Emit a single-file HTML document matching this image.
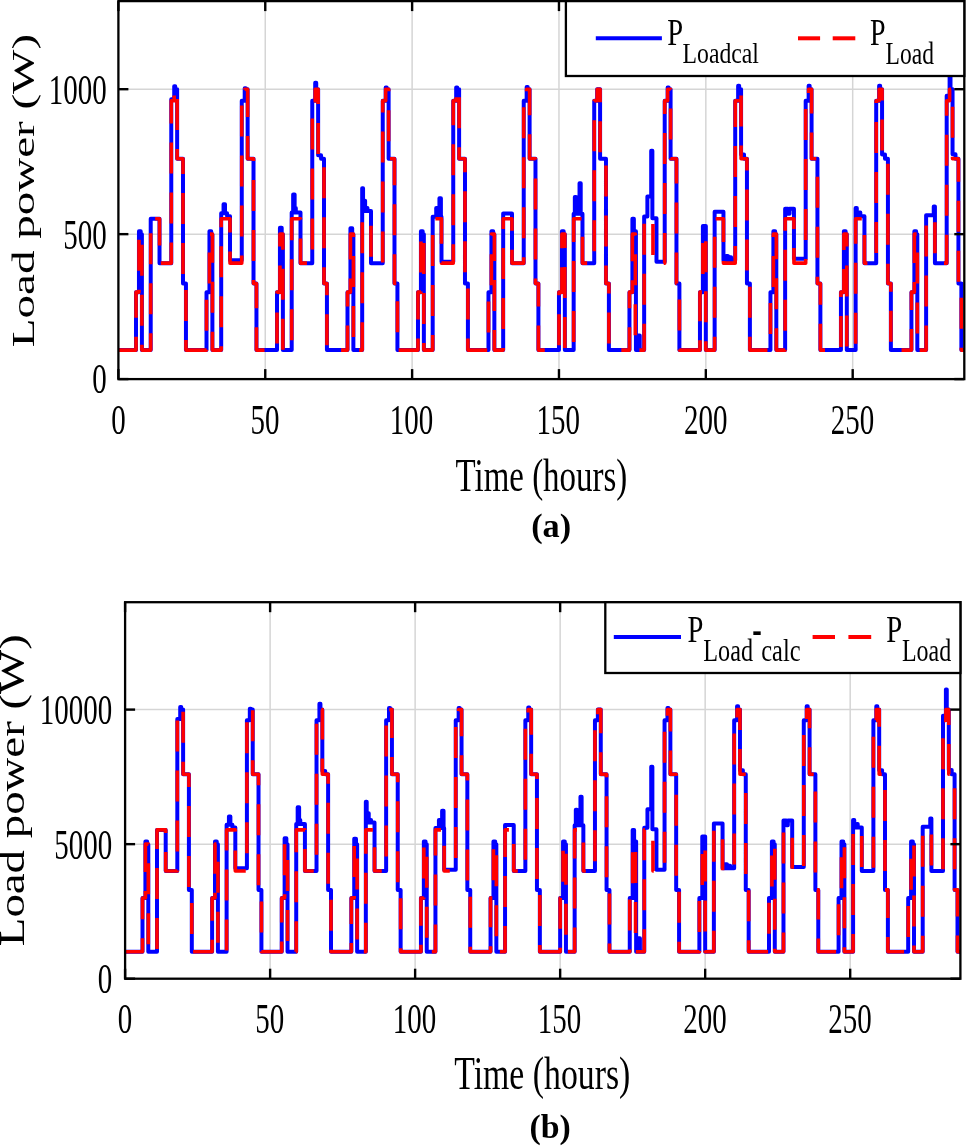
<!DOCTYPE html>
<html><head><meta charset="utf-8"><title>Load power</title>
<style>
html,body{margin:0;padding:0;background:#fff;}
body{width:966px;height:1146px;overflow:hidden;}
svg{display:block;font-family:"Liberation Serif",serif;will-change:transform;}
</style></head>
<body>
<svg width="966" height="1146" viewBox="0 0 966 1146">
<rect width="966" height="1146" fill="#fff"/>
<clipPath id="clipa"><rect x="118.4" y="1.1" width="845.9" height="378.0"/></clipPath>
<g stroke="#d5d5d5" stroke-width="1.5"><line x1="265.26" y1="1.1" x2="265.26" y2="379.1"/><line x1="412.12" y1="1.1" x2="412.12" y2="379.1"/><line x1="558.97" y1="1.1" x2="558.97" y2="379.1"/><line x1="705.83" y1="1.1" x2="705.83" y2="379.1"/><line x1="852.69" y1="1.1" x2="852.69" y2="379.1"/><line x1="118.4" y1="234.15" x2="964.3" y2="234.15"/><line x1="118.4" y1="89.20" x2="964.3" y2="89.20"/></g>
<g clip-path="url(#clipa)" fill="none" stroke-width="3.8" stroke-linejoin="round" stroke-linecap="butt">
<path d="M118.40,350.11 L136.02,350.11 L136.02,292.13 L138.96,292.13 L138.96,231.25 L140.72,231.25 L140.72,234.15 L141.90,234.15 L141.90,350.11 L150.71,350.11 L150.71,218.79 L159.52,218.79 L159.52,263.14 L171.27,263.14 L171.27,99.35 L174.21,99.35 L174.21,86.30 L175.23,86.30 L175.23,89.20 L177.14,89.20 L177.14,158.78 L183.02,158.78 L183.02,283.43 L185.95,283.43 L185.95,350.11 L206.51,350.11 L206.51,292.13 L209.45,292.13 L209.45,231.25 L211.21,231.25 L211.21,234.15 L212.39,234.15 L212.39,350.11 L221.20,350.11 L221.20,213.28 L223.55,213.28 L223.55,204.29 L225.02,204.29 L225.02,213.28 L227.07,213.28 L227.07,216.18 L230.01,216.18 L230.01,260.24 L241.76,260.24 L241.76,100.80 L244.70,100.80 L244.70,88.33 L245.73,88.33 L245.73,89.20 L247.63,89.20 L247.63,158.78 L253.51,158.78 L253.51,283.43 L256.45,283.43 L256.45,350.11 L277.01,350.11 L277.01,292.13 L279.94,292.13 L279.94,227.77 L281.71,227.77 L281.71,234.15 L282.88,234.15 L282.88,350.11 L291.69,350.11 L291.69,212.41 L293.16,212.41 L293.16,194.43 L294.63,194.43 L294.63,208.06 L295.80,208.06 L295.80,212.41 L300.50,212.41 L300.50,263.14 L312.25,263.14 L312.25,100.80 L315.19,100.80 L315.19,82.82 L316.22,82.82 L316.22,89.20 L318.13,89.20 L318.13,155.30 L321.06,155.30 L321.06,158.78 L324.00,158.78 L324.00,283.43 L326.94,283.43 L326.94,350.11 L347.50,350.11 L347.50,292.13 L350.44,292.13 L350.44,228.35 L352.20,228.35 L352.20,234.15 L353.37,234.15 L353.37,350.11 L362.18,350.11 L362.18,188.35 L363.06,188.35 L363.06,210.96 L363.65,210.96 L363.65,200.81 L365.12,200.81 L365.12,210.96 L366.00,210.96 L366.00,208.06 L367.47,208.06 L367.47,210.96 L371.00,210.96 L371.00,263.14 L382.74,263.14 L382.74,100.80 L385.68,100.80 L385.68,87.46 L386.71,87.46 L386.71,89.20 L388.62,89.20 L388.62,158.78 L394.49,158.78 L394.49,283.43 L397.43,283.43 L397.43,350.11 L417.99,350.11 L417.99,292.13 L420.93,292.13 L420.93,231.25 L422.69,231.25 L422.69,234.15 L423.86,234.15 L423.86,350.11 L432.68,350.11 L432.68,216.76 L436.20,216.76 L436.20,208.06 L438.55,208.06 L438.55,216.76 L439.43,216.76 L439.43,198.20 L440.90,198.20 L440.90,216.76 L441.49,216.76 L441.49,261.69 L453.24,261.69 L453.24,100.80 L456.17,100.80 L456.17,87.46 L457.20,87.46 L457.20,89.20 L459.11,89.20 L459.11,158.78 L464.98,158.78 L464.98,283.43 L467.92,283.43 L467.92,350.11 L488.48,350.11 L488.48,292.13 L491.42,292.13 L491.42,231.25 L493.18,231.25 L493.18,234.15 L494.36,234.15 L494.36,350.11 L503.17,350.11 L503.17,213.57 L511.98,213.57 L511.98,263.14 L523.73,263.14 L523.73,100.80 L526.66,100.80 L526.66,86.88 L527.69,86.88 L527.69,89.20 L529.60,89.20 L529.60,158.78 L535.48,158.78 L535.48,283.43 L538.41,283.43 L538.41,350.11 L558.97,350.11 L558.97,292.13 L561.91,292.13 L561.91,231.25 L563.67,231.25 L563.67,234.15 L564.85,234.15 L564.85,350.11 L573.66,350.11 L573.66,213.86 L574.83,213.86 L574.83,197.04 L576.01,197.04 L576.01,213.86 L579.53,213.86 L579.53,183.13 L580.71,183.13 L580.71,213.86 L582.47,213.86 L582.47,263.14 L594.22,263.14 L594.22,100.80 L597.16,100.80 L597.16,89.20 L600.09,89.20 L600.09,158.78 L605.97,158.78 L605.97,283.43 L608.90,283.43 L608.90,350.11 L629.46,350.11 L629.46,292.13 L632.40,292.13 L632.40,218.79 L633.87,218.79 L633.87,231.25 L635.93,231.25 L635.93,350.11 L637.39,350.11 L637.39,335.62 L639.74,335.62 L639.74,350.11 L644.15,350.11 L644.15,216.47 L647.38,216.47 L647.38,196.46 L651.20,196.46 L651.20,150.66 L652.37,150.66 L652.37,218.21 L656.49,218.21 L656.49,261.69 L664.71,261.69 L664.71,100.80 L667.65,100.80 L667.65,87.46 L668.68,87.46 L668.68,89.20 L670.58,89.20 L670.58,158.78 L676.46,158.78 L676.46,283.43 L679.40,283.43 L679.40,350.11 L699.96,350.11 L699.96,292.13 L702.89,292.13 L702.89,226.03 L705.83,226.03 L705.83,350.11 L714.64,350.11 L714.64,211.83 L723.45,211.83 L723.45,260.24 L726.39,260.24 L726.39,255.89 L727.86,255.89 L727.86,260.24 L729.92,260.24 L729.92,257.34 L731.09,257.34 L731.09,260.24 L735.20,260.24 L735.20,100.80 L738.14,100.80 L738.14,85.72 L739.17,85.72 L739.17,89.20 L741.08,89.20 L741.08,154.43 L744.01,154.43 L744.01,158.78 L746.95,158.78 L746.95,283.43 L749.89,283.43 L749.89,350.11 L770.45,350.11 L770.45,292.13 L773.39,292.13 L773.39,231.25 L775.15,231.25 L775.15,234.15 L776.32,234.15 L776.32,350.11 L785.13,350.11 L785.13,208.64 L788.07,208.64 L788.07,213.86 L789.54,213.86 L789.54,208.64 L793.95,208.64 L793.95,258.79 L805.69,258.79 L805.69,100.80 L808.63,100.80 L808.63,85.72 L809.66,85.72 L809.66,89.20 L811.57,89.20 L811.57,158.78 L817.44,158.78 L817.44,283.43 L820.38,283.43 L820.38,350.11 L840.94,350.11 L840.94,292.13 L843.88,292.13 L843.88,231.25 L845.64,231.25 L845.64,234.15 L846.81,234.15 L846.81,350.11 L855.63,350.11 L855.63,208.06 L856.80,208.06 L856.80,216.18 L859.44,216.18 L859.44,212.41 L860.32,212.41 L860.32,216.18 L864.44,216.18 L864.44,263.14 L876.19,263.14 L876.19,100.80 L879.12,100.80 L879.12,85.72 L880.15,85.72 L880.15,89.20 L882.06,89.20 L882.06,154.43 L885.00,154.43 L885.00,158.78 L887.93,158.78 L887.93,283.43 L890.87,283.43 L890.87,350.11 L911.43,350.11 L911.43,292.13 L914.37,292.13 L914.37,231.25 L916.13,231.25 L916.13,234.15 L917.31,234.15 L917.31,350.11 L926.12,350.11 L926.12,215.31 L933.75,215.31 L933.75,206.61 L934.93,206.61 L934.93,263.14 L946.68,263.14 L946.68,95.87 L949.61,95.87 L949.61,67.46 L950.50,67.46 L950.50,89.20 L952.55,89.20 L952.55,154.14 L955.49,154.14 L955.49,158.78 L958.43,158.78 L958.43,283.43 L961.36,283.43 L961.36,350.11 L964.30,350.11" stroke="#0000ff" stroke-width="4.0"/>
<path d="M118.40,350.11 L136.02,350.11 L136.02,292.13 L138.96,292.13 L138.96,234.15 L141.90,234.15 L141.90,350.11 L150.71,350.11 L150.71,218.79 L159.52,218.79 L159.52,263.14 L171.27,263.14 L171.27,100.80 L174.21,100.80 L174.21,89.20 L177.14,89.20 L177.14,158.78 L183.02,158.78 L183.02,283.43 L185.95,283.43 L185.95,350.11 L206.51,350.11 L206.51,292.13 L209.45,292.13 L209.45,234.15 L212.39,234.15 L212.39,350.11 L221.20,350.11 L221.20,218.79 L230.01,218.79 L230.01,263.14 L241.76,263.14 L241.76,100.80 L244.70,100.80 L244.70,89.20 L247.63,89.20 L247.63,158.78 L253.51,158.78 L253.51,283.43 L256.45,283.43 L256.45,350.11 L277.01,350.11 L277.01,292.13 L279.94,292.13 L279.94,234.15 L282.88,234.15 L282.88,350.11 L291.69,350.11 L291.69,218.79 L300.50,218.79 L300.50,263.14 L312.25,263.14 L312.25,100.80 L315.19,100.80 L315.19,89.20 L318.13,89.20 L318.13,158.78 L324.00,158.78 L324.00,283.43 L326.94,283.43 L326.94,350.11 L347.50,350.11 L347.50,292.13 L350.44,292.13 L350.44,234.15 L353.37,234.15 L353.37,350.11 L362.18,350.11 L362.18,218.79 L371.00,218.79 L371.00,263.14 L382.74,263.14 L382.74,100.80 L385.68,100.80 L385.68,89.20 L388.62,89.20 L388.62,158.78 L394.49,158.78 L394.49,283.43 L397.43,283.43 L397.43,350.11 L417.99,350.11 L417.99,292.13 L420.93,292.13 L420.93,234.15 L423.86,234.15 L423.86,350.11 L432.68,350.11 L432.68,218.79 L441.49,218.79 L441.49,263.14 L453.24,263.14 L453.24,100.80 L456.17,100.80 L456.17,89.20 L459.11,89.20 L459.11,158.78 L464.98,158.78 L464.98,283.43 L467.92,283.43 L467.92,350.11 L488.48,350.11 L488.48,292.13 L491.42,292.13 L491.42,234.15 L494.36,234.15 L494.36,350.11 L503.17,350.11 L503.17,218.79 L511.98,218.79 L511.98,263.14 L523.73,263.14 L523.73,100.80 L526.66,100.80 L526.66,89.20 L529.60,89.20 L529.60,158.78 L535.48,158.78 L535.48,283.43 L538.41,283.43 L538.41,350.11 L558.97,350.11 L558.97,292.13 L561.91,292.13 L561.91,234.15 L564.85,234.15 L564.85,350.11 L573.66,350.11 L573.66,218.79 L582.47,218.79 L582.47,263.14 L594.22,263.14 L594.22,100.80 L597.16,100.80 L597.16,89.20 L600.09,89.20 L600.09,158.78 L605.97,158.78 L605.97,283.43 L608.90,283.43 L608.90,350.11 L629.46,350.11 L629.46,292.13 L632.40,292.13 L632.40,234.15 L635.34,234.15 L635.34,350.11 L644.15,350.11 L644.15,218.79 L652.96,218.79 L652.96,263.14 L664.71,263.14 L664.71,100.80 L667.65,100.80 L667.65,89.20 L670.58,89.20 L670.58,158.78 L676.46,158.78 L676.46,283.43 L679.40,283.43 L679.40,350.11 L699.96,350.11 L699.96,292.13 L702.89,292.13 L702.89,234.15 L705.83,234.15 L705.83,350.11 L714.64,350.11 L714.64,218.79 L723.45,218.79 L723.45,263.14 L735.20,263.14 L735.20,100.80 L738.14,100.80 L738.14,89.20 L741.08,89.20 L741.08,158.78 L746.95,158.78 L746.95,283.43 L749.89,283.43 L749.89,350.11 L770.45,350.11 L770.45,292.13 L773.39,292.13 L773.39,234.15 L776.32,234.15 L776.32,350.11 L785.13,350.11 L785.13,218.79 L793.95,218.79 L793.95,263.14 L805.69,263.14 L805.69,100.80 L808.63,100.80 L808.63,89.20 L811.57,89.20 L811.57,158.78 L817.44,158.78 L817.44,283.43 L820.38,283.43 L820.38,350.11 L840.94,350.11 L840.94,292.13 L843.88,292.13 L843.88,234.15 L846.81,234.15 L846.81,350.11 L855.63,350.11 L855.63,218.79 L864.44,218.79 L864.44,263.14 L876.19,263.14 L876.19,100.80 L879.12,100.80 L879.12,89.20 L882.06,89.20 L882.06,158.78 L887.93,158.78 L887.93,283.43 L890.87,283.43 L890.87,350.11 L911.43,350.11 L911.43,292.13 L914.37,292.13 L914.37,234.15 L917.31,234.15 L917.31,350.11 L926.12,350.11 L926.12,218.79 L934.93,218.79 L934.93,263.14 L946.68,263.14 L946.68,100.80 L949.61,100.80 L949.61,89.20 L952.55,89.20 L952.55,158.78 L958.43,158.78 L958.43,283.43 L961.36,283.43 L961.36,350.11 L964.30,350.11" stroke="#ff0000" stroke-width="3.6" stroke-dasharray="31 19"/>
</g>
<g stroke="#000" stroke-width="2.4"><line x1="118.40" y1="379.1" x2="118.40" y2="369.1"/><line x1="118.40" y1="1.1" x2="118.40" y2="11.1"/><line x1="265.26" y1="379.1" x2="265.26" y2="369.1"/><line x1="265.26" y1="1.1" x2="265.26" y2="11.1"/><line x1="412.12" y1="379.1" x2="412.12" y2="369.1"/><line x1="412.12" y1="1.1" x2="412.12" y2="11.1"/><line x1="558.97" y1="379.1" x2="558.97" y2="369.1"/><line x1="558.97" y1="1.1" x2="558.97" y2="11.1"/><line x1="705.83" y1="379.1" x2="705.83" y2="369.1"/><line x1="705.83" y1="1.1" x2="705.83" y2="11.1"/><line x1="852.69" y1="379.1" x2="852.69" y2="369.1"/><line x1="852.69" y1="1.1" x2="852.69" y2="11.1"/><line x1="118.4" y1="379.10" x2="128.4" y2="379.10"/><line x1="964.3" y1="379.10" x2="954.3" y2="379.10"/><line x1="118.4" y1="234.15" x2="128.4" y2="234.15"/><line x1="964.3" y1="234.15" x2="954.3" y2="234.15"/><line x1="118.4" y1="89.20" x2="128.4" y2="89.20"/><line x1="964.3" y1="89.20" x2="954.3" y2="89.20"/></g>
<rect x="118.4" y="1.1" width="845.9" height="378.0" fill="none" stroke="#000" stroke-width="2.3"/>
<text transform="translate(92.21,393.46) scale(0.6900,1)" font-size="42.00" font-weight="normal" fill="#000">0</text>
<text transform="translate(63.23,248.50) scale(0.6900,1)" font-size="42.00" font-weight="normal" fill="#000">500</text>
<text transform="translate(48.74,103.56) scale(0.6900,1)" font-size="42.00" font-weight="normal" fill="#000">1000</text>
<text transform="translate(111.16,434.03) scale(0.6900,1)" font-size="42.00" font-weight="normal" fill="#000">0</text>
<text transform="translate(250.48,434.03) scale(0.6900,1)" font-size="42.00" font-weight="normal" fill="#000">50</text>
<text transform="translate(389.66,434.03) scale(0.6900,1)" font-size="42.00" font-weight="normal" fill="#000">100</text>
<text transform="translate(536.51,434.03) scale(0.6900,1)" font-size="42.00" font-weight="normal" fill="#000">150</text>
<text transform="translate(684.01,434.03) scale(0.6900,1)" font-size="42.00" font-weight="normal" fill="#000">200</text>
<text transform="translate(830.87,434.03) scale(0.6900,1)" font-size="42.00" font-weight="normal" fill="#000">250</text>
<rect x="565.9" y="1.1" width="398.4" height="74.9" fill="#fff" stroke="#000" stroke-width="2.3"/>
<line x1="595.8" y1="38.3" x2="661.9" y2="38.3" stroke="#0000ff" stroke-width="4"/>
<line x1="798" y1="38.3" x2="820.1" y2="38.3" stroke="#ff0000" stroke-width="4"/>
<line x1="832.7" y1="38.3" x2="855.3" y2="38.3" stroke="#ff0000" stroke-width="4"/>
<text transform="translate(667.17,45.10) scale(0.7448,1)" font-size="38.32" font-weight="normal" fill="#000">P</text>
<text transform="translate(682.61,63.47) scale(0.7849,1)" font-size="30.21" font-weight="normal" fill="#000">Loadcal</text>
<text transform="translate(869.99,44.90) scale(0.7287,1)" font-size="38.32" font-weight="normal" fill="#000">P</text>
<text transform="translate(885.62,63.76) scale(0.7470,1)" font-size="31.50" font-weight="normal" fill="#000">Load</text>
<clipPath id="clipb"><rect x="125.1" y="602.2" width="835.3" height="376.5"/></clipPath>
<g stroke="#d5d5d5" stroke-width="1.5"><line x1="270.12" y1="602.2" x2="270.12" y2="978.7"/><line x1="415.13" y1="602.2" x2="415.13" y2="978.7"/><line x1="560.15" y1="602.2" x2="560.15" y2="978.7"/><line x1="705.17" y1="602.2" x2="705.17" y2="978.7"/><line x1="850.19" y1="602.2" x2="850.19" y2="978.7"/><line x1="125.1" y1="844.15" x2="960.4" y2="844.15"/><line x1="125.1" y1="709.60" x2="960.4" y2="709.60"/></g>
<g clip-path="url(#clipb)" fill="none" stroke-width="3.8" stroke-linejoin="round" stroke-linecap="butt">
<path d="M125.10,951.79 L142.50,951.79 L142.50,897.97 L145.40,897.97 L145.40,841.46 L147.14,841.46 L147.14,844.15 L148.30,844.15 L148.30,951.79 L157.00,951.79 L157.00,829.89 L165.70,829.89 L165.70,871.06 L177.31,871.06 L177.31,719.02 L180.21,719.02 L180.21,706.91 L181.22,706.91 L181.22,709.60 L183.11,709.60 L183.11,774.18 L188.91,774.18 L188.91,889.90 L191.81,889.90 L191.81,951.79 L212.11,951.79 L212.11,897.97 L215.01,897.97 L215.01,841.46 L216.75,841.46 L216.75,844.15 L217.91,844.15 L217.91,951.79 L226.61,951.79 L226.61,824.77 L228.93,824.77 L228.93,816.43 L230.38,816.43 L230.38,824.77 L232.41,824.77 L232.41,827.47 L235.31,827.47 L235.31,868.37 L246.91,868.37 L246.91,720.36 L249.81,720.36 L249.81,708.79 L250.83,708.79 L250.83,709.60 L252.72,709.60 L252.72,774.18 L258.52,774.18 L258.52,889.90 L261.42,889.90 L261.42,951.79 L281.72,951.79 L281.72,897.97 L284.62,897.97 L284.62,838.23 L286.36,838.23 L286.36,844.15 L287.52,844.15 L287.52,951.79 L296.22,951.79 L296.22,823.97 L297.67,823.97 L297.67,807.28 L299.12,807.28 L299.12,819.93 L300.28,819.93 L300.28,823.97 L304.92,823.97 L304.92,871.06 L316.52,871.06 L316.52,720.36 L319.42,720.36 L319.42,703.68 L320.44,703.68 L320.44,709.60 L322.32,709.60 L322.32,770.95 L325.22,770.95 L325.22,774.18 L328.12,774.18 L328.12,889.90 L331.02,889.90 L331.02,951.79 L351.33,951.79 L351.33,897.97 L354.23,897.97 L354.23,838.77 L355.97,838.77 L355.97,844.15 L357.13,844.15 L357.13,951.79 L365.83,951.79 L365.83,801.63 L366.70,801.63 L366.70,822.62 L367.28,822.62 L367.28,813.20 L368.73,813.20 L368.73,822.62 L369.60,822.62 L369.60,819.93 L371.05,819.93 L371.05,822.62 L374.53,822.62 L374.53,871.06 L386.13,871.06 L386.13,720.36 L389.03,720.36 L389.03,707.99 L390.05,707.99 L390.05,709.60 L391.93,709.60 L391.93,774.18 L397.73,774.18 L397.73,889.90 L400.63,889.90 L400.63,951.79 L420.94,951.79 L420.94,897.97 L423.84,897.97 L423.84,841.46 L425.58,841.46 L425.58,844.15 L426.74,844.15 L426.74,951.79 L435.44,951.79 L435.44,828.00 L438.92,828.00 L438.92,819.93 L441.24,819.93 L441.24,828.00 L442.11,828.00 L442.11,810.78 L443.56,810.78 L443.56,828.00 L444.14,828.00 L444.14,869.71 L455.74,869.71 L455.74,720.36 L458.64,720.36 L458.64,707.99 L459.66,707.99 L459.66,709.60 L461.54,709.60 L461.54,774.18 L467.34,774.18 L467.34,889.90 L470.24,889.90 L470.24,951.79 L490.54,951.79 L490.54,897.97 L493.44,897.97 L493.44,841.46 L495.18,841.46 L495.18,844.15 L496.34,844.15 L496.34,951.79 L505.05,951.79 L505.05,825.04 L513.75,825.04 L513.75,871.06 L525.35,871.06 L525.35,720.36 L528.25,720.36 L528.25,707.45 L529.26,707.45 L529.26,709.60 L531.15,709.60 L531.15,774.18 L536.95,774.18 L536.95,889.90 L539.85,889.90 L539.85,951.79 L560.15,951.79 L560.15,897.97 L563.05,897.97 L563.05,841.46 L564.79,841.46 L564.79,844.15 L565.95,844.15 L565.95,951.79 L574.65,951.79 L574.65,825.31 L575.81,825.31 L575.81,809.71 L576.97,809.71 L576.97,825.31 L580.45,825.31 L580.45,796.79 L581.61,796.79 L581.61,825.31 L583.35,825.31 L583.35,871.06 L594.96,871.06 L594.96,720.36 L597.86,720.36 L597.86,709.60 L600.76,709.60 L600.76,774.18 L606.56,774.18 L606.56,889.90 L609.46,889.90 L609.46,951.79 L629.76,951.79 L629.76,897.97 L632.66,897.97 L632.66,829.89 L634.11,829.89 L634.11,841.46 L636.14,841.46 L636.14,951.79 L637.59,951.79 L637.59,938.34 L639.91,938.34 L639.91,951.79 L644.26,951.79 L644.26,827.73 L647.45,827.73 L647.45,809.17 L651.22,809.17 L651.22,766.65 L652.38,766.65 L652.38,829.35 L656.44,829.35 L656.44,869.71 L664.56,869.71 L664.56,720.36 L667.46,720.36 L667.46,707.99 L668.48,707.99 L668.48,709.60 L670.37,709.60 L670.37,774.18 L676.17,774.18 L676.17,889.90 L679.07,889.90 L679.07,951.79 L699.37,951.79 L699.37,897.97 L702.27,897.97 L702.27,836.62 L705.17,836.62 L705.17,951.79 L713.87,951.79 L713.87,823.43 L722.57,823.43 L722.57,868.37 L725.47,868.37 L725.47,864.33 L726.92,864.33 L726.92,868.37 L728.95,868.37 L728.95,865.68 L730.11,865.68 L730.11,868.37 L734.17,868.37 L734.17,720.36 L737.07,720.36 L737.07,706.37 L738.09,706.37 L738.09,709.60 L739.97,709.60 L739.97,770.15 L742.87,770.15 L742.87,774.18 L745.77,774.18 L745.77,889.90 L748.67,889.90 L748.67,951.79 L768.98,951.79 L768.98,897.97 L771.88,897.97 L771.88,841.46 L773.62,841.46 L773.62,844.15 L774.78,844.15 L774.78,951.79 L783.48,951.79 L783.48,820.47 L786.38,820.47 L786.38,825.31 L787.83,825.31 L787.83,820.47 L792.18,820.47 L792.18,867.02 L803.78,867.02 L803.78,720.36 L806.68,720.36 L806.68,706.37 L807.70,706.37 L807.70,709.60 L809.58,709.60 L809.58,774.18 L815.38,774.18 L815.38,889.90 L818.28,889.90 L818.28,951.79 L838.59,951.79 L838.59,897.97 L841.49,897.97 L841.49,841.46 L843.23,841.46 L843.23,844.15 L844.39,844.15 L844.39,951.79 L853.09,951.79 L853.09,819.93 L854.25,819.93 L854.25,827.47 L856.86,827.47 L856.86,823.97 L857.73,823.97 L857.73,827.47 L861.79,827.47 L861.79,871.06 L873.39,871.06 L873.39,720.36 L876.29,720.36 L876.29,706.37 L877.31,706.37 L877.31,709.60 L879.19,709.60 L879.19,770.15 L882.09,770.15 L882.09,774.18 L884.99,774.18 L884.99,889.90 L887.89,889.90 L887.89,951.79 L908.19,951.79 L908.19,897.97 L911.09,897.97 L911.09,841.46 L912.83,841.46 L912.83,844.15 L913.99,844.15 L913.99,951.79 L922.70,951.79 L922.70,826.66 L930.24,826.66 L930.24,818.59 L931.40,818.59 L931.40,871.06 L943.00,871.06 L943.00,715.79 L945.90,715.79 L945.90,689.42 L946.77,689.42 L946.77,709.60 L948.80,709.60 L948.80,769.88 L951.70,769.88 L951.70,774.18 L954.60,774.18 L954.60,889.90 L957.50,889.90 L957.50,951.79 L960.40,951.79" stroke="#0000ff" stroke-width="4.0"/>
<path d="M125.10,951.79 L142.50,951.79 L142.50,897.97 L145.40,897.97 L145.40,844.15 L148.30,844.15 L148.30,951.79 L157.00,951.79 L157.00,829.89 L165.70,829.89 L165.70,871.06 L177.31,871.06 L177.31,720.36 L180.21,720.36 L180.21,709.60 L183.11,709.60 L183.11,774.18 L188.91,774.18 L188.91,889.90 L191.81,889.90 L191.81,951.79 L212.11,951.79 L212.11,897.97 L215.01,897.97 L215.01,844.15 L217.91,844.15 L217.91,951.79 L226.61,951.79 L226.61,829.89 L235.31,829.89 L235.31,871.06 L246.91,871.06 L246.91,720.36 L249.81,720.36 L249.81,709.60 L252.72,709.60 L252.72,774.18 L258.52,774.18 L258.52,889.90 L261.42,889.90 L261.42,951.79 L281.72,951.79 L281.72,897.97 L284.62,897.97 L284.62,844.15 L287.52,844.15 L287.52,951.79 L296.22,951.79 L296.22,829.89 L304.92,829.89 L304.92,871.06 L316.52,871.06 L316.52,720.36 L319.42,720.36 L319.42,709.60 L322.32,709.60 L322.32,774.18 L328.12,774.18 L328.12,889.90 L331.02,889.90 L331.02,951.79 L351.33,951.79 L351.33,897.97 L354.23,897.97 L354.23,844.15 L357.13,844.15 L357.13,951.79 L365.83,951.79 L365.83,829.89 L374.53,829.89 L374.53,871.06 L386.13,871.06 L386.13,720.36 L389.03,720.36 L389.03,709.60 L391.93,709.60 L391.93,774.18 L397.73,774.18 L397.73,889.90 L400.63,889.90 L400.63,951.79 L420.94,951.79 L420.94,897.97 L423.84,897.97 L423.84,844.15 L426.74,844.15 L426.74,951.79 L435.44,951.79 L435.44,829.89 L444.14,829.89 L444.14,871.06 L455.74,871.06 L455.74,720.36 L458.64,720.36 L458.64,709.60 L461.54,709.60 L461.54,774.18 L467.34,774.18 L467.34,889.90 L470.24,889.90 L470.24,951.79 L490.54,951.79 L490.54,897.97 L493.44,897.97 L493.44,844.15 L496.34,844.15 L496.34,951.79 L505.05,951.79 L505.05,829.89 L513.75,829.89 L513.75,871.06 L525.35,871.06 L525.35,720.36 L528.25,720.36 L528.25,709.60 L531.15,709.60 L531.15,774.18 L536.95,774.18 L536.95,889.90 L539.85,889.90 L539.85,951.79 L560.15,951.79 L560.15,897.97 L563.05,897.97 L563.05,844.15 L565.95,844.15 L565.95,951.79 L574.65,951.79 L574.65,829.89 L583.35,829.89 L583.35,871.06 L594.96,871.06 L594.96,720.36 L597.86,720.36 L597.86,709.60 L600.76,709.60 L600.76,774.18 L606.56,774.18 L606.56,889.90 L609.46,889.90 L609.46,951.79 L629.76,951.79 L629.76,897.97 L632.66,897.97 L632.66,844.15 L635.56,844.15 L635.56,951.79 L644.26,951.79 L644.26,829.89 L652.96,829.89 L652.96,871.06 L664.56,871.06 L664.56,720.36 L667.46,720.36 L667.46,709.60 L670.37,709.60 L670.37,774.18 L676.17,774.18 L676.17,889.90 L679.07,889.90 L679.07,951.79 L699.37,951.79 L699.37,897.97 L702.27,897.97 L702.27,844.15 L705.17,844.15 L705.17,951.79 L713.87,951.79 L713.87,829.89 L722.57,829.89 L722.57,871.06 L734.17,871.06 L734.17,720.36 L737.07,720.36 L737.07,709.60 L739.97,709.60 L739.97,774.18 L745.77,774.18 L745.77,889.90 L748.67,889.90 L748.67,951.79 L768.98,951.79 L768.98,897.97 L771.88,897.97 L771.88,844.15 L774.78,844.15 L774.78,951.79 L783.48,951.79 L783.48,829.89 L792.18,829.89 L792.18,871.06 L803.78,871.06 L803.78,720.36 L806.68,720.36 L806.68,709.60 L809.58,709.60 L809.58,774.18 L815.38,774.18 L815.38,889.90 L818.28,889.90 L818.28,951.79 L838.59,951.79 L838.59,897.97 L841.49,897.97 L841.49,844.15 L844.39,844.15 L844.39,951.79 L853.09,951.79 L853.09,829.89 L861.79,829.89 L861.79,871.06 L873.39,871.06 L873.39,720.36 L876.29,720.36 L876.29,709.60 L879.19,709.60 L879.19,774.18 L884.99,774.18 L884.99,889.90 L887.89,889.90 L887.89,951.79 L908.19,951.79 L908.19,897.97 L911.09,897.97 L911.09,844.15 L913.99,844.15 L913.99,951.79 L922.70,951.79 L922.70,829.89 L931.40,829.89 L931.40,871.06 L943.00,871.06 L943.00,720.36 L945.90,720.36 L945.90,709.60 L948.80,709.60 L948.80,774.18 L954.60,774.18 L954.60,889.90 L957.50,889.90 L957.50,951.79 L960.40,951.79" stroke="#ff0000" stroke-width="3.6" stroke-dasharray="31 19"/>
</g>
<g stroke="#000" stroke-width="2.4"><line x1="125.10" y1="978.7" x2="125.10" y2="968.7"/><line x1="125.10" y1="602.2" x2="125.10" y2="612.2"/><line x1="270.12" y1="978.7" x2="270.12" y2="968.7"/><line x1="270.12" y1="602.2" x2="270.12" y2="612.2"/><line x1="415.13" y1="978.7" x2="415.13" y2="968.7"/><line x1="415.13" y1="602.2" x2="415.13" y2="612.2"/><line x1="560.15" y1="978.7" x2="560.15" y2="968.7"/><line x1="560.15" y1="602.2" x2="560.15" y2="612.2"/><line x1="705.17" y1="978.7" x2="705.17" y2="968.7"/><line x1="705.17" y1="602.2" x2="705.17" y2="612.2"/><line x1="850.19" y1="978.7" x2="850.19" y2="968.7"/><line x1="850.19" y1="602.2" x2="850.19" y2="612.2"/><line x1="125.1" y1="978.70" x2="135.1" y2="978.70"/><line x1="960.4" y1="978.70" x2="950.4" y2="978.70"/><line x1="125.1" y1="844.15" x2="135.1" y2="844.15"/><line x1="960.4" y1="844.15" x2="950.4" y2="844.15"/><line x1="125.1" y1="709.60" x2="135.1" y2="709.60"/><line x1="960.4" y1="709.60" x2="950.4" y2="709.60"/></g>
<rect x="125.1" y="602.2" width="835.3" height="376.5" fill="none" stroke="#000" stroke-width="2.3"/>
<text transform="translate(97.81,993.26) scale(0.6900,1)" font-size="42.00" font-weight="normal" fill="#000">0</text>
<text transform="translate(54.34,858.71) scale(0.6900,1)" font-size="42.00" font-weight="normal" fill="#000">5000</text>
<text transform="translate(39.85,724.16) scale(0.6900,1)" font-size="42.00" font-weight="normal" fill="#000">10000</text>
<text transform="translate(117.85,1032.53) scale(0.6900,1)" font-size="42.00" font-weight="normal" fill="#000">0</text>
<text transform="translate(255.34,1032.53) scale(0.6900,1)" font-size="42.00" font-weight="normal" fill="#000">50</text>
<text transform="translate(392.68,1032.53) scale(0.6900,1)" font-size="42.00" font-weight="normal" fill="#000">100</text>
<text transform="translate(537.69,1032.53) scale(0.6900,1)" font-size="42.00" font-weight="normal" fill="#000">150</text>
<text transform="translate(683.35,1032.53) scale(0.6900,1)" font-size="42.00" font-weight="normal" fill="#000">200</text>
<text transform="translate(828.36,1032.53) scale(0.6900,1)" font-size="42.00" font-weight="normal" fill="#000">250</text>
<rect x="605.3" y="602.2" width="355.1" height="70.79999999999995" fill="#fff" stroke="#000" stroke-width="2.3"/>
<line x1="613.8" y1="637.0" x2="681.0" y2="637.0" stroke="#0000ff" stroke-width="4"/>
<line x1="812.6" y1="637.0" x2="835.0" y2="637.0" stroke="#ff0000" stroke-width="4"/>
<line x1="848.4" y1="637.0" x2="871.2" y2="637.0" stroke="#ff0000" stroke-width="4"/>
<text transform="translate(687.47,641.60) scale(0.7631,1)" font-size="37.40" font-weight="normal" fill="#000">P</text>
<text transform="translate(703.30,660.86) scale(0.7784,1)" font-size="31.07" font-weight="normal" fill="#000">Load</text>
<text transform="translate(752.35,645.07) scale(0.5769,1)" font-size="49.33" font-weight="normal" fill="#000">-</text>
<text transform="translate(761.17,660.86) scale(0.7875,1)" font-size="31.07" font-weight="normal" fill="#000">calc</text>
<text transform="translate(886.17,641.60) scale(0.7686,1)" font-size="37.40" font-weight="normal" fill="#000">P</text>
<text transform="translate(901.90,660.86) scale(0.7720,1)" font-size="31.07" font-weight="normal" fill="#000">Load</text>
<text transform="translate(455.51,490.95) scale(0.6986,1)" font-size="47.19" font-weight="normal" fill="#000">Time (hours)</text>
<text transform="translate(454.29,1089.04) scale(0.7222,1)" font-size="46.75" font-weight="normal" fill="#000">Time (hours)</text>
<text transform="translate(531.19,536.80) scale(1.0447,1)" font-size="32.86" font-weight="bold" fill="#000">(a)</text>
<text transform="translate(529.51,1138.40) scale(1.0306,1)" font-size="32.86" font-weight="bold" fill="#000">(b)</text>
<text transform="translate(34.40,347.16) scale(0.6892,1) rotate(-90)" font-size="47.03" fill="#000">Load power (W)</text>
<text transform="translate(23.80,946.16) scale(0.7443,1) rotate(-90)" font-size="46.84" fill="#000">Load power (W)</text>
</svg>
</body></html>
